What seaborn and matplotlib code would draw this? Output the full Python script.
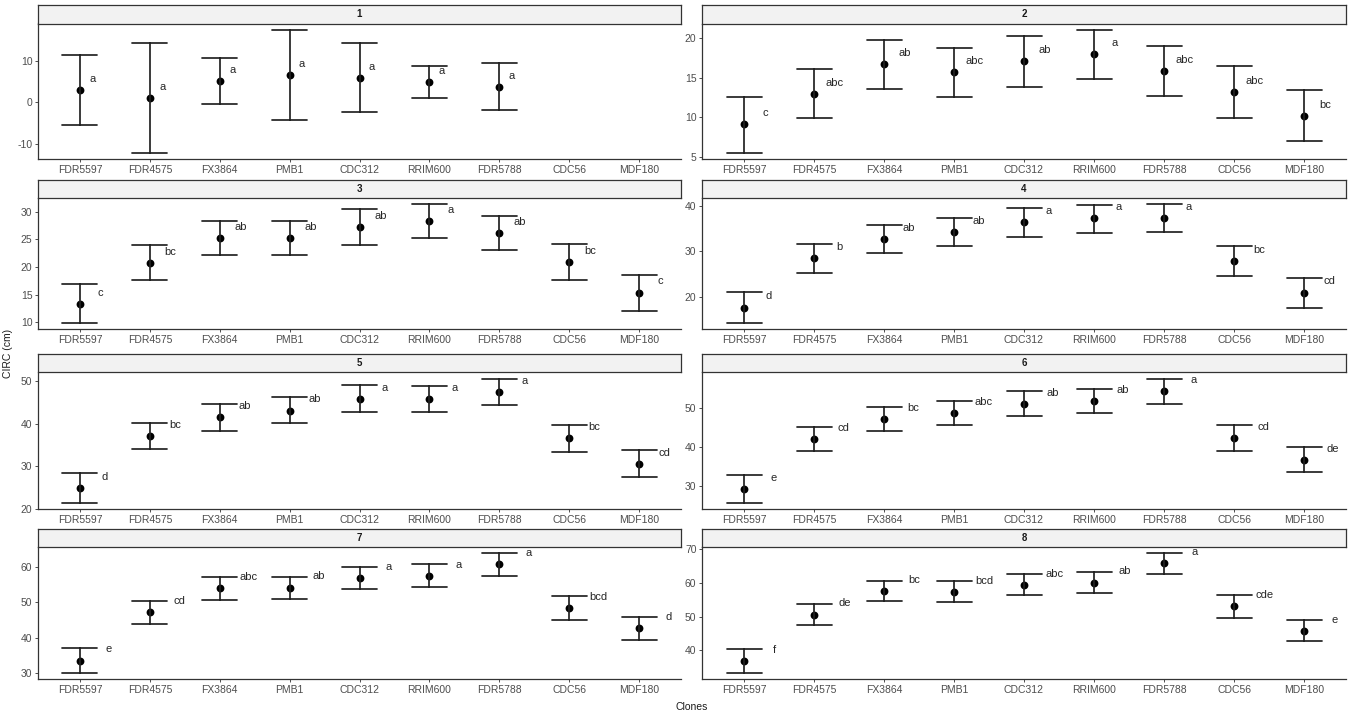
import numpy as np
import pandas as pd
import matplotlib
matplotlib.use("Agg")
import matplotlib.pyplot as plt
from matplotlib.ticker import MultipleLocator
import seaborn as sns

# ---------------- data ----------------
clones = ["FDR5597", "FDR4575", "FX3864", "PMB1", "CDC312",
          "RRIM600", "FDR5788", "CDC56", "MDF180"]
panels = ["1", "2", "3", "4", "5", "6", "7", "8"]

means = [
    [3.0, 1.0, 5.2, 6.6, 5.9, 4.9, 3.8],
    [9.1, 13.0, 16.7, 15.7, 17.1, 18.0, 15.9, 13.2, 10.2],
    [13.4, 20.8, 25.2, 25.2, 27.2, 28.3, 26.2, 20.9, 15.4],
    [17.6, 28.4, 32.6, 34.3, 36.4, 37.2, 37.3, 27.8, 20.9],
    [24.9, 37.1, 41.5, 43.1, 45.9, 45.8, 47.4, 36.6, 30.6],
    [29.3, 42.1, 47.2, 48.8, 51.2, 51.9, 54.4, 42.5, 36.8],
    [33.6, 47.1, 53.9, 54.1, 56.8, 57.4, 60.6, 48.4, 42.6],
    [36.7, 50.6, 57.5, 57.3, 59.4, 60.1, 65.8, 53.0, 45.8],
]
lows = [
    [-5.4, -12.1, -0.3, -4.3, -2.3, 1.1, -1.8],
    [5.5, 9.9, 13.6, 12.6, 13.9, 14.9, 12.7, 9.9, 7.0],
    [9.9, 17.7, 22.1, 22.1, 24.0, 25.2, 23.0, 17.7, 12.1],
    [14.2, 25.3, 29.6, 31.1, 33.2, 34.0, 34.2, 24.5, 17.6],
    [21.4, 34.0, 38.4, 40.1, 42.8, 42.7, 44.3, 33.4, 27.4],
    [25.8, 39.0, 44.1, 45.7, 48.1, 48.8, 51.2, 39.2, 33.6],
    [30.1, 44.0, 50.7, 50.9, 53.6, 54.3, 57.4, 45.1, 39.3],
    [33.2, 47.5, 54.5, 54.2, 56.3, 57.0, 62.7, 49.7, 42.6],
]
highs = [
    [11.3, 14.2, 10.8, 17.5, 14.2, 8.7, 9.4],
    [12.6, 16.1, 19.8, 18.8, 20.3, 21.1, 19.0, 16.5, 13.4],
    [16.9, 23.9, 28.3, 28.3, 30.4, 31.4, 29.3, 24.2, 18.6],
    [21.1, 31.6, 35.7, 37.4, 39.6, 40.2, 40.4, 31.1, 24.1],
    [28.4, 40.2, 44.6, 46.2, 49.1, 49.0, 50.6, 39.8, 33.8],
    [32.8, 45.3, 50.4, 52.0, 54.5, 55.0, 57.6, 45.8, 40.0],
    [37.0, 50.3, 57.0, 57.2, 59.9, 60.6, 63.8, 51.8, 45.8],
    [40.2, 53.6, 60.7, 60.5, 62.7, 63.2, 68.9, 56.3, 49.0],
]
letters = [
    ["a", "a", "a", "a", "a", "a", "a"],
    ["c", "abc", "ab", "abc", "ab", "a", "abc", "abc", "bc"],
    ["c", "bc", "ab", "ab", "ab", "a", "ab", "bc", "c"],
    ["d", "b", "ab", "ab", "a", "a", "a", "bc", "cd"],
    ["d", "bc", "ab", "ab", "a", "a", "a", "bc", "cd"],
    ["e", "cd", "bc", "abc", "ab", "ab", "a", "cd", "de"],
    ["e", "cd", "abc", "ab", "a", "a", "a", "bcd", "d"],
    ["f", "de", "bc", "bcd", "abc", "ab", "a", "cde", "e"],
]

# long table: lower / mean / upper per clone (median = mean, min/max = bar ends)
rows = []
for p, m_list, l_list, h_list in zip(panels, means, lows, highs):
    for c, m, lo, hi in zip(clones, m_list, l_list, h_list):
        for v in (lo, m, hi):
            rows.append({"panel": p, "clone": c, "value": v})
df = pd.DataFrame(rows)

# ---------------- style ----------------
sns.set_theme(style="white")
plt.rcParams["font.family"] = ["Liberation Sans", "DejaVu Sans"]
plt.rcParams["axes.unicode_minus"] = False

W, H = 1350, 715
fig = plt.figure(figsize=(W / 100, H / 100), dpi=100)

col_x = [(38, 681), (702, 1346)]
strip_top = [5, 179.5, 354, 528.5]
axis_bottom = [159, 329, 509, 679]
strip_h = 18.5
y_steps = [10, 5, 5, 10, 10, 10, 10, 10]
nudges = [9, 15, 15, 18, 18, 21, 21, 22]

dark = "#333333"
tick_col = "#4D4D4D"

for k, p in enumerate(panels):
    r, c = divmod(k, 2)
    x0, x1 = col_x[c]
    top = strip_top[r] + strip_h
    bot = axis_bottom[r]
    ax = fig.add_axes([x0 / W, 1 - bot / H, (x1 - x0) / W, (bot - top) / H])
    sax = fig.add_axes([x0 / W, 1 - top / H, (x1 - x0) / W, strip_h / H])

    sub = df[df["panel"] == p]
    sns.pointplot(data=sub, x="clone", y="value", order=clones,
                  estimator="median",
                  errorbar=lambda v: (v.min(), v.max()),
                  capsize=0.5, linestyle="none", color="black",
                  marker="o", markersize=3.6,
                  err_kws={"linewidth": 1.25, "color": "#222222"},
                  ax=ax)
    for i, (m, lab) in enumerate(zip(means[k], letters[k])):
        ax.annotate(lab, xy=(i, m), xytext=(nudges[k], 8),
                    textcoords="offset points", ha="center", va="center",
                    fontsize=8, color="#262626")

    ax.set_xlim(-0.6, len(clones) - 0.4)
    ax.yaxis.set_major_locator(MultipleLocator(y_steps[k]))
    ax.set_xlabel("")
    ax.set_ylabel("")
    ax.set_facecolor("white")
    for s in ("top", "right"):
        ax.spines[s].set_visible(False)
    for s in ("left", "bottom"):
        ax.spines[s].set_color(dark)
        ax.spines[s].set_linewidth(0.9)
    ax.tick_params(axis="both", which="major", length=2.5, width=0.7,
                   color=tick_col, labelcolor=tick_col, labelsize=7.5, pad=1.5,
                   bottom=True, left=True)

    sax.set_facecolor("#F2F2F2")
    sax.set_xticks([])
    sax.set_yticks([])
    for s in sax.spines.values():
        s.set_color(dark)
        s.set_linewidth(0.9)
    sax.text(0.5, 0.5, p, transform=sax.transAxes, ha="center", va="center",
             fontsize=7, fontweight="bold", color="#1a1a1a")

fig.text(8 / W, 1 - 353 / H, "CIRC (cm)", rotation=90, ha="center",
         va="center", fontsize=7.5, color="#1a1a1a")
fig.text(692 / W, 1 - 707 / H, "Clones", ha="center", va="center",
         fontsize=7.5, color="#1a1a1a")

fig.savefig("out.png", dpi=100, facecolor="white")
